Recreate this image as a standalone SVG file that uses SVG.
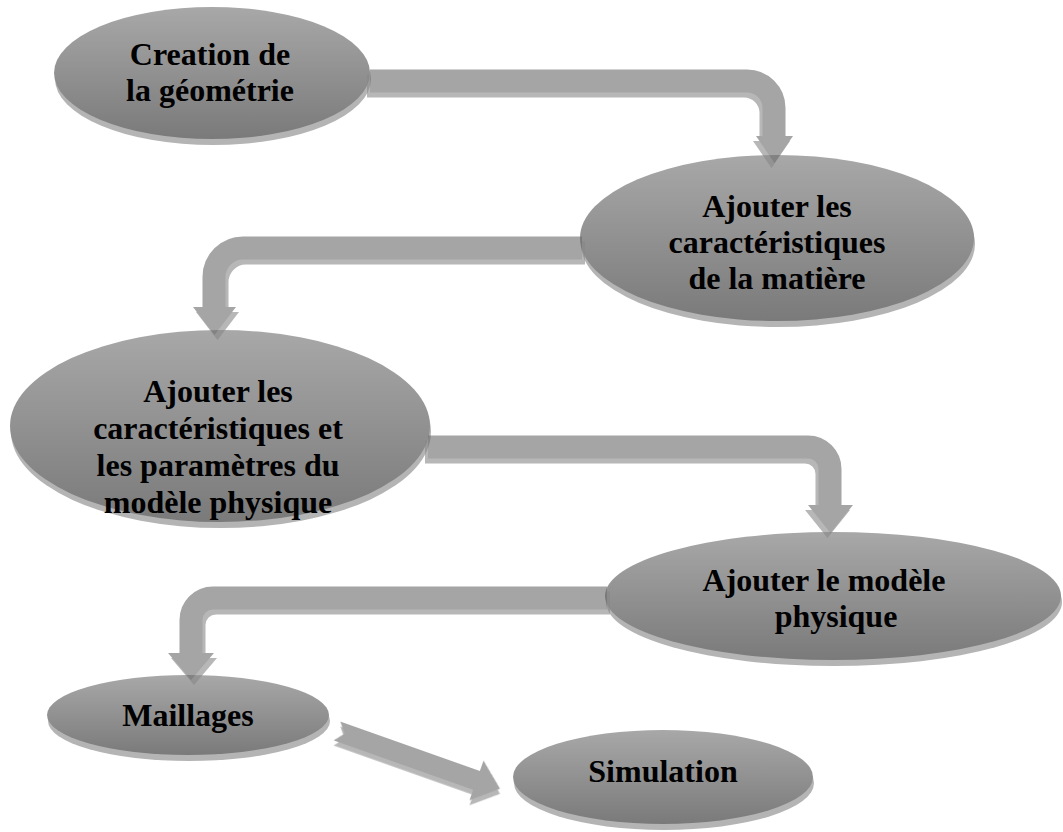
<svg xmlns="http://www.w3.org/2000/svg" width="1063" height="832" viewBox="0 0 1063 832">
  <defs>
    <linearGradient id="g" x1="0" y1="0" x2="0" y2="1">
      <stop offset="0" stop-color="#a8a8a8"/>
      <stop offset="1" stop-color="#7a7a7a"/>
    </linearGradient>
  </defs>
  <style>
    .sh { fill: #b4b4b4; }
    .el { fill: url(#g); }
    .t { font-family: "Liberation Serif", "Times New Roman", serif; font-weight: bold; font-size: 32px; fill: #000; text-anchor: middle; }
    .band { fill: none; stroke-width: 23; }
    .bm { stroke: #6a6a6a; }
    .bs { stroke: #878787; }
    .hm { fill: #6a6a6a; }
    .hs { fill: #878787; }
  </style>
  <rect width="1063" height="832" fill="#fff"/>

  <g id="n1">
    <ellipse class="sh" cx="213" cy="79" rx="158" ry="66"/>
    <ellipse class="el" cx="212" cy="73" rx="158" ry="66"/>
    <text class="t" x="210" y="65">Creation de</text>
    <text class="t" x="210" y="101">la géométrie</text>
  </g>
  <g id="n2">
    <ellipse class="sh" cx="778" cy="244" rx="197" ry="83"/>
    <ellipse class="el" cx="777" cy="238" rx="197" ry="83"/>
    <text class="t" x="777" y="217">Ajouter les</text>
    <text class="t" x="777" y="253">caractéristiques</text>
    <text class="t" x="777" y="289">de la matière</text>
  </g>
  <g id="n3">
    <ellipse class="sh" cx="221" cy="432" rx="210" ry="96"/>
    <ellipse class="el" cx="220" cy="426" rx="210" ry="96"/>
    <text class="t" x="218" y="402">Ajouter les</text>
    <text class="t" x="218" y="439">caractéristiques et</text>
    <text class="t" x="218" y="476">les paramètres du</text>
    <text class="t" x="218" y="513">modèle physique</text>
  </g>
  <g id="n4">
    <ellipse class="sh" cx="834" cy="602" rx="228" ry="64"/>
    <ellipse class="el" cx="833" cy="596" rx="228" ry="64"/>
    <text class="t" x="824" y="591">Ajouter le modèle</text>
    <text class="t" x="836" y="627">physique</text>
  </g>
  <g id="n5">
    <ellipse class="sh" cx="189" cy="721" rx="141" ry="40"/>
    <ellipse class="el" cx="188" cy="715" rx="141" ry="40"/>
    <text class="t" x="188" y="726">Maillages</text>
  </g>
  <g id="n6">
    <ellipse class="sh" cx="664" cy="783" rx="150" ry="47"/>
    <ellipse class="el" cx="663" cy="777" rx="150" ry="47"/>
    <text class="t" x="663" y="782">Simulation</text>
  </g>

  <g id="connectors" opacity="0.6">
    <g transform="translate(-3,5)">
      <path class="band bs" d="M370,81 H747 A27,27 0 0 1 774,108 V138"/>
      <polygon class="hs" points="756,136 793,136 774.5,163"/>
    </g>
    <path class="band bm" d="M370,81 H747 A27,27 0 0 1 774,108 V138"/>
    <polygon class="hm" points="756,136 793,136 774.5,163"/>
    <g transform="translate(3,5)">
      <path class="band bs" d="M582,248 H243 A29,29 0 0 0 214,277 V309"/>
      <polygon class="hs" points="193,307 236,307 214.5,335"/>
    </g>
    <path class="band bm" d="M582,248 H243 A29,29 0 0 0 214,277 V309"/>
    <polygon class="hm" points="193,307 236,307 214.5,335"/>
    <g transform="translate(-3,5)">
      <path class="band bs" d="M428,447 H808 A22,22 0 0 1 830,469 V507"/>
      <polygon class="hs" points="808,505 853,505 830.5,533"/>
    </g>
    <path class="band bm" d="M428,447 H808 A22,22 0 0 1 830,469 V507"/>
    <polygon class="hm" points="808,505 853,505 830.5,533"/>
    <g transform="translate(3,5)">
      <path class="band bs" d="M607,598 H213 A22,22 0 0 0 191,620 V655"/>
      <polygon class="hs" points="168,653 214,653 191,680"/>
    </g>
    <path class="band bm" d="M607,598 H213 A22,22 0 0 0 191,620 V655"/>
    <polygon class="hm" points="168,653 214,653 191,680"/>
    <g transform="translate(337,731) rotate(19.5)">
      <polygon class="hs" transform="translate(1.7,4.7)" points="0,-10 148,-10 148,-21 173,0 148,21 148,10 0,10 8,0"/>
      <polygon class="hm" points="0,-10 148,-10 148,-21 173,0 148,21 148,10 0,10 8,0"/>
    </g>
  </g>
</svg>
